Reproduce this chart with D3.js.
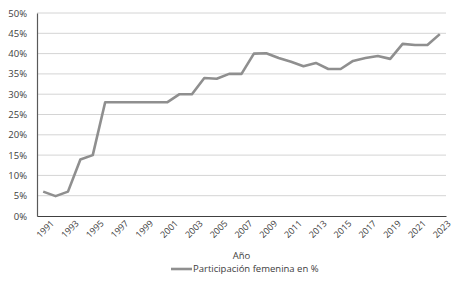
<!DOCTYPE html>
<html>
<head>
<meta charset="utf-8">
<script src="https://cdn.jsdelivr.net/npm/d3@7"></script>
<style>
  body { margin: 0; background: #fff; }
  svg text { font-family: "Open Sans", "Noto Sans", sans-serif; fill: #404040; }
</style>
</head>
<body>
<div id="chart"></div>
<script>
'use strict';

var years = d3.range(1991, 2024).map(String);
var participacion = [6, 4.9, 6, 13.9, 15, 28, 28, 28, 28, 28, 28, 30, 30, 34, 33.8, 35, 35,
	40, 40.1, 38.9, 38, 36.9, 37.7, 36.2, 36.2, 38.2, 38.9, 39.4, 38.7, 42.4, 42.1, 42.1, 44.8];
var yTicks = [0, 5, 10, 15, 20, 25, 30, 35, 40, 45, 50];
var xTickLabels = years.filter(function(d, i){ return i % 2 === 0; });
var seriesName = 'Participación femenina en %';
var xTitle = 'Año';

var margin = {top: 13, right: 25, bottom: 71, left: 37};
var width = 471 - margin.left - margin.right;
var height = 287 - margin.top - margin.bottom;

var svg = d3.select('#chart').append('svg')
	.attr('width', 471)
	.attr('height', 287)
	.append('g')
		.attr('transform', 'translate(' + margin.left + ',' + margin.top + ')');

var xScale = d3.scaleBand().domain(years).range([0, width]);
var yScale = d3.scaleLinear().domain([0, 50]).range([height, 0]);

// gridlines
svg.append('g').selectAll('line').data(yTicks.slice(1)).enter().append('line')
	.attr('x1', 0).attr('x2', width)
	.attr('y1', function(d){ return yScale(d); })
	.attr('y2', function(d){ return yScale(d); })
	.attr('stroke', '#d4d4d4').attr('stroke-width', 1);

// y axis
var yAxis = d3.axisLeft(yScale).tickValues(yTicks).tickSize(0).tickPadding(10)
	.tickFormat(function(d){ return d + '%'; });
var gy = svg.append('g').attr('class', 'axis y').call(yAxis);
gy.select('.domain').attr('stroke', '#595959').attr('stroke-width', 1.2);
gy.selectAll('text').style('font-size', '9.5px').style('fill', '#404040');

// x axis
var xAxis = d3.axisBottom(xScale).tickValues(xTickLabels).tickSize(0).tickPadding(4);
var gx = svg.append('g').attr('class', 'axis x')
	.attr('transform', 'translate(0,' + height + ')')
	.call(xAxis);
gx.select('.domain').attr('stroke', '#404040').attr('stroke-width', 1.2);
gx.selectAll('text')
	.style('font-size', '9px')
	.style('fill', '#404040')
	.attr('text-anchor', 'end')
	.attr('dx', '2.5')
	.attr('dy', '9.8')
	.attr('transform', 'rotate(-45)');

// axis title
svg.append('text')
	.attr('x', 241.5 - margin.left)
	.attr('y', height + 43)
	.attr('text-anchor', 'middle')
	.style('font-size', '9.5px')
	.text(xTitle);

// line
var line = d3.line()
	.x(function(d, i){ return xScale(years[i]) + xScale.bandwidth() / 2; })
	.y(function(d){ return yScale(d); });

svg.append('path')
	.datum(participacion)
	.attr('fill', 'none')
	.attr('stroke', '#8f8f8f')
	.attr('stroke-width', 2.6)
	.attr('stroke-linejoin', 'round')
	.attr('d', line);

// legend
var legend = svg.append('g').attr('transform', 'translate(' + (171 - margin.left) + ',' + (height + 53) + ')');
legend.append('line')
	.attr('x1', 0).attr('x2', 21).attr('y1', 0).attr('y2', 0)
	.attr('stroke', '#8f8f8f').attr('stroke-width', 2.6);
legend.append('text')
	.attr('x', 22).attr('y', 0).attr('dy', '0.35em')
	.style('font-size', '9.5px')
	.text(seriesName);
</script>
</body>
</html>
